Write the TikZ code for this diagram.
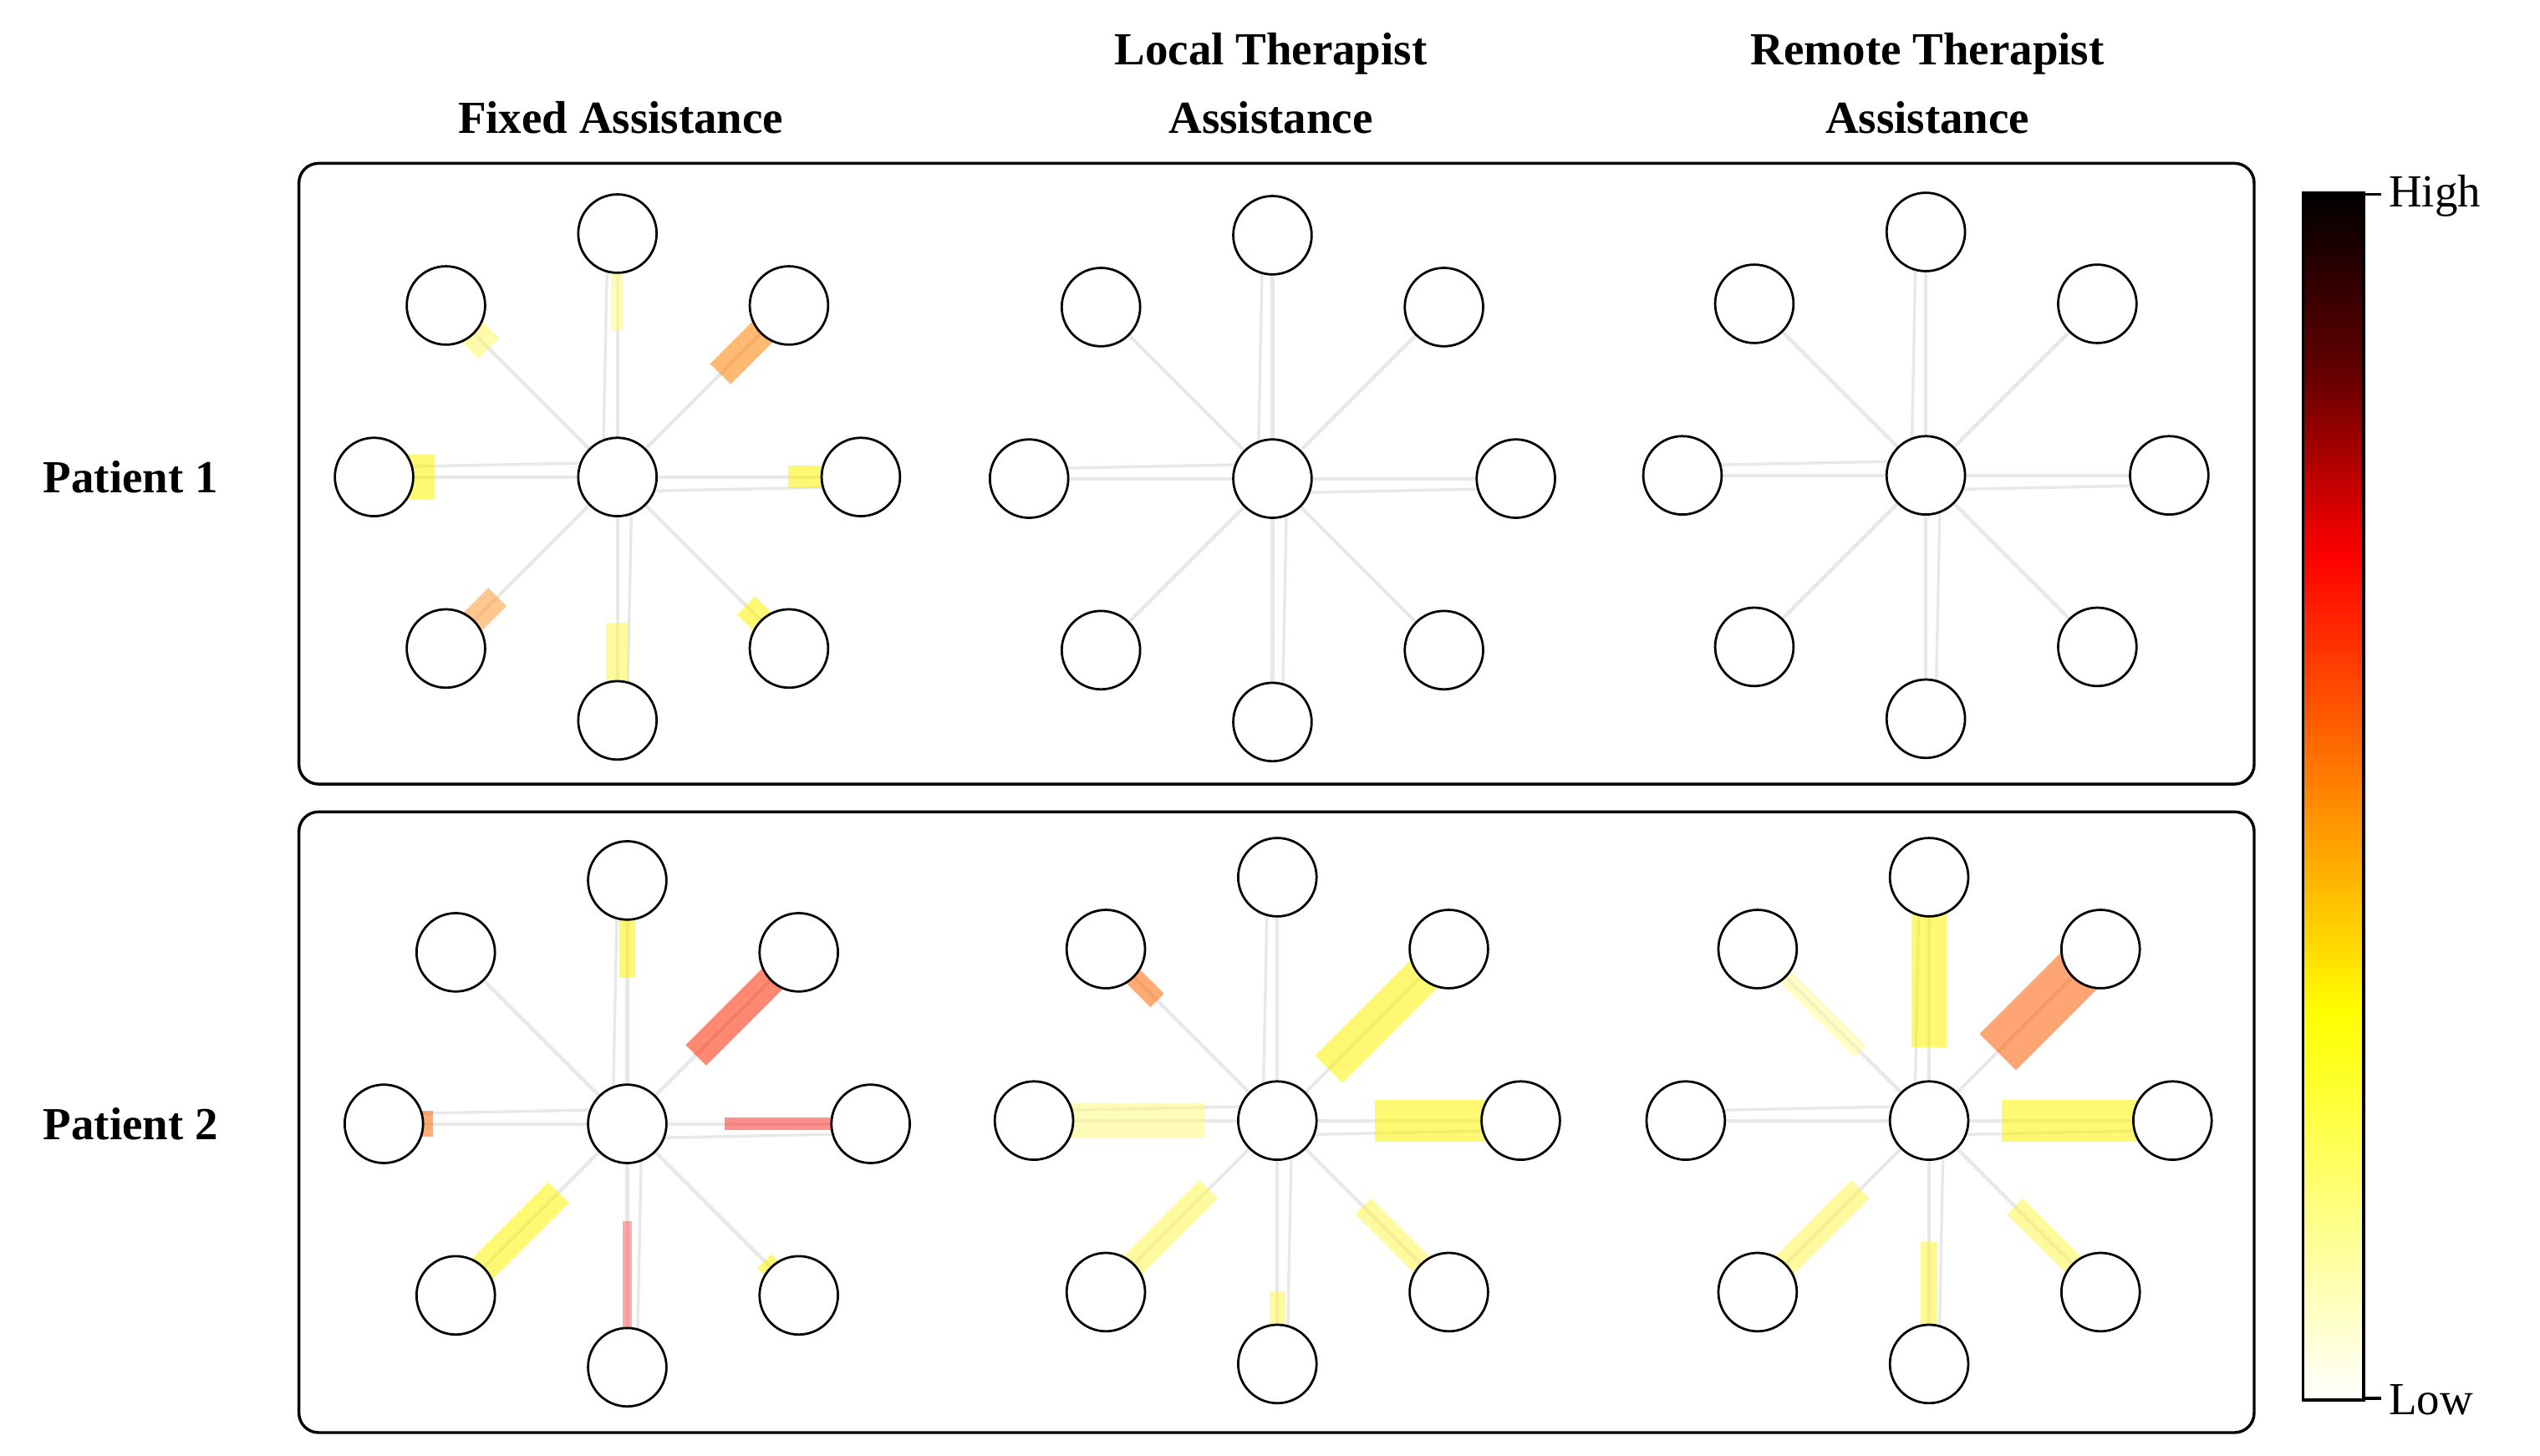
\documentclass[tikz,border=0pt]{standalone}
\usepackage{fontspec}
\setmainfont{Liberation Serif}
\usetikzlibrary{calc}
\begin{document}
\begin{tikzpicture}[x=0.05cm,y=-0.05cm,
 tgt/.style={circle,draw=black,line width=2pt,fill=white,minimum size=2.4cm,inner sep=0},
 panel/.style={draw=black,line width=2.5pt,rounded corners=0.6cm},
 lbl/.style={font=\bfseries\fontsize{40}{60}\selectfont,align=center},
 traj/.style={draw=black!9,line width=3pt},
 band/.style={line width=#1,line cap=butt}]
\useasboundingbox (0,0) rectangle (1555,891);
\node[lbl] (t1) at (380,72) {Fixed Assistance};
\node[lbl] (t2) at (778,51) {Local Therapist\\Assistance};
\node[lbl] (t3) at (1180,51) {Remote Therapist\\Assistance};
\node[lbl] (p1) at (80,292) {Patient 1};
\node[lbl] (p2) at (80,688) {Patient 2};
\draw[panel] (183,100) rectangle (1380,480);
\draw[panel] (183,497) rectangle (1380,877);
% colorbar
\shade[bottom color=white,top color=yellow] (1410,857) rectangle (1447,620);
\shade[bottom color=yellow,top color=orange] (1410,620.5) rectangle (1447,480);
\shade[bottom color=orange,top color=red] (1410,480.5) rectangle (1447,340);
\shade[bottom color=red,top color=black!60!red] (1410,340.5) rectangle (1447,230);
\shade[bottom color=black!60!red,top color=black] (1410,230.5) rectangle (1447,118);
\draw[line width=2.5pt] (1410,118) rectangle (1447,857);
\draw[line width=2.5pt] (1447,119) -- (1458,119) (1447,856) -- (1458,856);
\node[font=\fontsize{40}{46}\selectfont,anchor=west] (hi) at (1460,120) {High};
\node[font=\fontsize{40}{46}\selectfont,anchor=west] (lo) at (1460,857) {Low};
% grids
\foreach \n/\cx/\cy in {a/378/292,b/779/293,c/1179/291,d/384/688,e/782/686,f/1181/686}{
  \coordinate (\n) at (\cx,\cy);
  \foreach \k/\dx/\dy in {0/149/0,1/105/-105,2/0/-149,3/-105/-105,4/-149/0,5/-105/105,6/0/149,7/105/105}{
    \coordinate (\n\k) at ($(\n)+(\dx,\dy)$);
    \draw[traj] (\n) -- (\n\k);
    \draw[draw=black!9,line width=2.5pt] ($(\n)+(0.06*\dy,0.06*\dx)$) -- ($(\n\k)+(0.04*\dy,0.04*\dx)$);
  }
}
% heat bands (approximate)
\tikzset{hb/.style={band=#1,opacity=0.55}}
\foreach \s/\e/\c/\w/\f in {
  a/a4/yellow/28/0.75, a/a3/yellow!60/18/0.75, a/a1/orange/18/0.6, a/a0/yellow/14/0.7, a/a5/orange!80/16/0.7, a/a7/yellow/16/0.75, a/a6/yellow!70/14/0.6, a/a2/yellow!50/8/0.6,
  d/d4/orange!80!red/16/0.8, d/d1/red!70!orange/18/0.4, d/d0/red!80/8/0.4, d/d5/yellow/18/0.4, d/d7/yellow/12/0.8, d/d2/yellow/10/0.6, d/d6/red!60/6/0.4,
  e/e3/orange!80!red/12/0.7, e/e0/yellow/26/0.4, e/e4/yellow!50/22/0.3, e/e1/yellow/24/0.3, e/e5/yellow!70/16/0.4, e/e6/yellow!70/10/0.7, e/e7/yellow!70/14/0.5,
  f/f1/orange!70!red/32/0.4, f/f2/yellow/22/0.3, f/f0/yellow/26/0.3, f/f5/yellow!70/16/0.4, f/f6/yellow!80/10/0.5, f/f7/yellow!70/14/0.5, f/f3/yellow!40/10/0.4}{
  \draw[hb=\w pt*1.4,draw=\c] ($(\s)!\f!(\e)$) -- ($(\e)!0.1!(\s)$);
}
% targets
\foreach \n in {a,b,c,d,e,f}{
  \node[tgt] (\n c) at (\n) {};
  \foreach \k in {0,...,7}{\node[tgt] (\n t\k) at (\n\k) {};}
}
\end{tikzpicture}
\end{document}
